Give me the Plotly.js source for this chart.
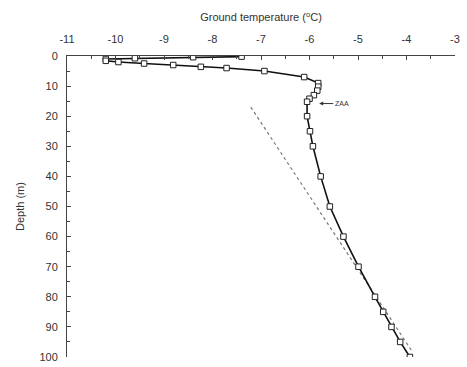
<!DOCTYPE html>
<html>
<head>
<meta charset="utf-8">
<script src="https://cdn.plot.ly/plotly-3.0.1.min.js"></script>
<style>html,body{margin:0;padding:0;background:#fff;}#chart{width:467px;height:367px;}</style>
</head>
<body>
<div id="chart"></div>
<script>
// Measured profile
const depth = [0.2, 0.4, 0.75, 1.0, 1.6, 2.0, 2.5, 3.0, 3.6, 4.0, 5.0, 7.0, 9.0, 10.2, 11.5, 13.0, 14.2, 15.2, 20, 25, 30, 40, 50, 60, 70, 80, 85, 90, 95, 100];
const temperature = [-7.4, -8.4, -9.6, -10.2, -10.2, -9.94, -9.41, -8.81, -8.24, -7.71, -6.93, -6.11, -5.82, -5.82, -5.84, -5.91, -6.0, -6.05, -6.05, -5.99, -5.93, -5.77, -5.58, -5.30, -4.99, -4.65, -4.48, -4.31, -4.13, -3.93];
// Extrapolated gradient line
const trendDepth = [17, 98];
const trendTemp = [-7.21, -3.89];
// Tick labels
const xTicks = [-11, -10, -9, -8, -7, -6, -5, -4, -3];
const yTicks = [0, 10, 20, 30, 40, 50, 60, 70, 80, 90, 100];

const traces = [
  {x: trendTemp, y: trendDepth, mode: 'lines', line: {color: '#777', width: 1.2, dash: 'dot'}, hoverinfo: 'skip'},
  {x: temperature, y: depth, mode: 'lines+markers', line: {color: '#111', width: 1.6},
   marker: {symbol: 'square', size: 5.5, color: '#fff', line: {width: 1, color: '#222'}}}
];
const layout = {
  width: 467, height: 367,
  margin: {l: 67, r: 12, t: 56, b: 10},
  paper_bgcolor: '#fff', plot_bgcolor: '#fff',
  showlegend: false,
  font: {family: 'Liberation Sans, Arial, sans-serif', size: 11, color: '#333'},
  xaxis: {
    side: 'top', range: [-11, -3], tickvals: xTicks, ticktext: xTicks.map(String),
    ticks: 'inside', ticklen: 4, tickcolor: '#444', showgrid: false, zeroline: false,
    showline: true, linecolor: '#444', linewidth: 1, ticklabelstandoff: 8,
    minor: {dtick: 0.5, ticks: 'inside', ticklen: 3, tickcolor: '#444'},
    title: {text: 'Ground temperature (<sup>o</sup>C)', font: {size: 11, color: '#333'}, standoff: 8},
    tickfont: {size: 11, color: '#333'}
  },
  yaxis: {
    range: [100, 0], tickvals: yTicks, ticktext: yTicks.map(String),
    ticks: 'inside', ticklen: 4, tickcolor: '#444', showgrid: false, zeroline: false,
    showline: true, linecolor: '#444', linewidth: 1, ticklabelstandoff: 6,
    minor: {dtick: 5, ticks: 'inside', ticklen: 3, tickcolor: '#444'},
    title: {text: 'Depth (m)', font: {size: 11, color: '#333'}, standoff: 12},
    tickfont: {size: 11, color: '#333'}
  },
  annotations: [{
    x: -5.8, y: 15.8, xref: 'x', yref: 'y', text: 'ZAA', showarrow: true,
    arrowhead: 2, arrowsize: 0.8, arrowwidth: 1, arrowcolor: '#333',
    ax: 14, ay: 0, font: {size: 7, color: '#333'}, xanchor: 'left'
  }]
};
Plotly.newPlot('chart', traces, layout, {displayModeBar: false, staticPlot: true});
</script>
</body>
</html>
